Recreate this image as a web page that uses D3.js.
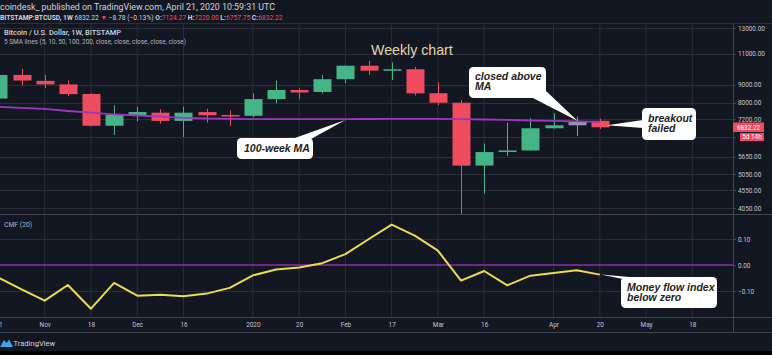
<!DOCTYPE html>
<html><head><meta charset="utf-8">
<script src="https://cdn.jsdelivr.net/npm/d3@7"></script>
<style>
html,body{margin:0;padding:0;background:#131722;}
svg{display:block;}
</style></head><body>
<svg id="c" width="772" height="355"></svg>
<script>
// ---------- data ----------
const weeks = ["2019-10-21","2019-10-28","2019-11-04","2019-11-11","2019-11-18","2019-11-25","2019-12-02","2019-12-09","2019-12-16","2019-12-23","2019-12-30","2020-01-06","2020-01-13","2020-01-20","2020-01-27","2020-02-03","2020-02-10","2020-02-17","2020-02-24","2020-03-02","2020-03-09","2020-03-16","2020-03-23","2020-03-30","2020-04-06","2020-04-13","2020-04-20"];
const opens  = [8230,9590,9230,9020,8480,6900,7400,7510,7120,7540,7400,7360,8200,8700,8590,9330,10180,9860,9950,8520,8010,5330,5820,5880,6790,6920,7124.27];
const highs  = [10350,9970,9590,9250,8520,7890,7800,7680,7800,7700,7620,8510,9240,8795,9590,10200,10500,10400,10100,9130,8150,6150,7030,7240,7480,7320,7220.00];
const lows   = [7300,8970,8810,8360,6880,6500,7100,7000,6420,7050,6900,7300,7980,8200,8510,9100,9590,9280,8390,7880,3893,4450,5670,5860,6770,6460,6757.75];
const closes = [9590,9250,9020,8470,6900,7400,7545,7120,7510,7385,7360,8200,8700,8560,9330,10180,9860,9950,8510,8010,5330,5820,5880,6790,6920,7120,6832.22];
const ma100  = [7800,7745,7693,7593,7510,7430,7375,7318,7266,7233,7212,7205,7205,7205,7205,7208,7210,7212,7214,7212,7200,7185,7165,7140,7118,7095,7073];
const cmf    = [-0.048,-0.094,-0.137,-0.077,-0.168,-0.069,-0.118,-0.114,-0.120,-0.110,-0.088,-0.040,-0.017,-0.010,0.007,0.042,0.099,0.155,0.113,0.055,-0.060,-0.023,-0.078,-0.041,-0.031,-0.020,-0.037];
const priceTicks = [13000,11000,9000,8000,7200,6400,5650,5050,4550,4050];
const priceTickLabels = ["13000.00","11000.00","9000.00","8000.00","7200.00","","5650.00","5050.00","4550.00","4050.00"]; // 6400 label hidden behind the countdown tag
const cmfTicks = [0.10,0.00,-0.10];
const xTickDates = ["2019-10-21","2019-11-04","2019-11-18","2019-12-02","2019-12-16","2020-01-06","2020-01-20","2020-02-03","2020-02-17","2020-03-02","2020-03-16","2020-04-06","2020-04-20","2020-05-04","2020-05-18"];
const xTickLabels = ["21","Nov","18","Dec","16","2020","20","Feb","17","Mar","16","Apr","20","May","18"];
const lastPrice = 6832.22;

// ---------- setup ----------
const parse = d3.utcParse("%Y-%m-%d");
const svg = d3.select("#c");
const W = 772, axisX = 733;
const priceTop = 24, priceBot = 214.5, cmfBot = 317, xAxisBot = 332;
const BG = "#131722", GRID = "#2a2e39", BORDER = "#434651", TXT = "#b2b5be";
const UP = "#45b486", DOWN = "#ef4d5f";
const FONT = "Roboto, 'Liberation Sans', sans-serif";

svg.append("rect").attr("width",W).attr("height",355).attr("fill",BG);
svg.append("rect").attr("y",351).attr("width",W).attr("height",4).attr("fill","#000");

const x = d3.scaleUtc()
  .domain([parse("2019-11-04"), parse("2020-05-18")])
  .range([44.7, 44.7 + 28*23.13]);
const y = d3.scaleLog().domain([4050,13000]).range([208,28]);
const yc = d3.scaleLinear().domain([-0.10,0.10]).range([291,239]);

const data = weeks.map((w,i)=>({d:parse(w),o:opens[i],h:highs[i],l:lows[i],c:closes[i],ma:ma100[i],cmf:cmf[i]}));

// clip paths
const defs = svg.append("defs");
defs.append("clipPath").attr("id","cp").append("rect").attr("x",0).attr("y",priceTop).attr("width",axisX).attr("height",priceBot-priceTop);
defs.append("clipPath").attr("id","cc").append("rect").attr("x",0).attr("y",priceBot).attr("width",axisX).attr("height",cmfBot-priceBot);

// gridlines
const grid = svg.append("g");
grid.selectAll(".vg").data(xTickDates).join("line")
  .attr("x1",d=>x(parse(d))).attr("x2",d=>x(parse(d)))
  .attr("y1",priceTop).attr("y2",cmfBot).attr("stroke",GRID).attr("stroke-width",1);
grid.selectAll(".hg").data(priceTicks).join("line")
  .attr("x1",0).attr("x2",axisX).attr("y1",d=>Math.round(y(d))+0.5).attr("y2",d=>Math.round(y(d))+0.5)
  .attr("stroke",GRID);
grid.selectAll(".hc").data(cmfTicks.filter(d=>d!==0)).join("line")
  .attr("x1",0).attr("x2",axisX).attr("y1",d=>Math.round(yc(d))+0.5).attr("y2",d=>Math.round(yc(d))+0.5)
  .attr("stroke",GRID);

// borders
const bd = svg.append("g").attr("stroke",BORDER).attr("stroke-width",1);
bd.append("line").attr("x1",0).attr("x2",W).attr("y1",priceTop-0.5).attr("y2",priceTop-0.5).attr("stroke","#2a2e39");
bd.append("line").attr("x1",0).attr("x2",W).attr("y1",priceBot).attr("y2",priceBot);
bd.append("line").attr("x1",0).attr("x2",W).attr("y1",cmfBot+0.5).attr("y2",cmfBot+0.5);
bd.append("line").attr("x1",0).attr("x2",W).attr("y1",xAxisBot+0.5).attr("y2",xAxisBot+0.5);
bd.append("line").attr("x1",axisX+0.5).attr("x2",axisX+0.5).attr("y1",priceTop).attr("y2",xAxisBot);

// ---------- price panel ----------
const pg = svg.append("g").attr("clip-path","url(#cp)");
const cw = 18;
const cg = pg.selectAll(".candle").data(data).join("g");
cg.append("line")
  .attr("x1",d=>Math.round(x(d.d))+0.5).attr("x2",d=>Math.round(x(d.d))+0.5)
  .attr("y1",d=>y(d.h)).attr("y2",d=>y(d.l))
  .attr("stroke",(d,i)=> i===25 ? "#8a9cb0" : (d.c>=d.o?UP:DOWN)).attr("stroke-width",1);
cg.append("rect")
  .attr("x",d=>Math.round(x(d.d)-cw/2)+0.5).attr("width",cw)
  .attr("y",d=>y(Math.max(d.o,d.c))).attr("height",d=>Math.max(1.5,y(Math.min(d.o,d.c))-y(Math.max(d.o,d.c))))
  .attr("fill",(d,i)=> i===25 ? "#8a9cb0" : (d.c>=d.o?UP:DOWN));

pg.append("path").datum(data)
  .attr("d",d3.line().x(d=>x(d.d)).y(d=>y(d.ma)))
  .attr("fill","none").attr("stroke","#a034c4").attr("stroke-width",1.8);

// ---------- cmf panel ----------
const cgp = svg.append("g").attr("clip-path","url(#cc)");
cgp.append("line").attr("x1",0).attr("x2",axisX).attr("y1",yc(0)).attr("y2",yc(0))
  .attr("stroke","#8e2fa8").attr("stroke-width",1.3);
cgp.append("path").datum(data)
  .attr("d",d3.line().x(d=>x(d.d)).y(d=>yc(d.cmf)))
  .attr("fill","none").attr("stroke","#eadc52").attr("stroke-width",2).attr("stroke-linejoin","round");

// ---------- axes ----------
const ya = svg.append("g").attr("transform",`translate(${axisX},0)`)
  .call(d3.axisRight(y).tickValues(priceTicks).tickFormat((d,i)=>priceTickLabels[i]).tickSize(3).tickPadding(2));
const yca = svg.append("g").attr("transform",`translate(${axisX},0)`)
  .call(d3.axisRight(yc).tickValues(cmfTicks).tickFormat(d3.format(".2f")).tickSize(3).tickPadding(2));
const xa = svg.append("g").attr("transform",`translate(0,${cmfBot})`)
  .call(d3.axisBottom(x).tickValues(xTickDates.map(parse)).tickFormat((d,i)=>xTickLabels[i]).tickSize(0).tickPadding(5));
[ya,yca,xa].forEach(a=>{
  a.select(".domain").remove();
  a.selectAll(".tick line").attr("stroke",BORDER);
  a.selectAll("text").attr("fill","#c3c6ce").attr("font-family",FONT).attr("font-size",6.4);
});

// last price tags
const tagY = y(lastPrice);
svg.append("rect").attr("x",axisX).attr("y",tagY-4.8).attr("width",31).attr("height",9.6).attr("fill",DOWN);
svg.append("text").attr("x",axisX+15.5).attr("y",tagY+2.3).attr("text-anchor","middle")
  .attr("fill","#fff").attr("font-family",FONT).attr("font-size",6.4).text(d3.format(".2f")(lastPrice));
svg.append("rect").attr("x",740).attr("y",tagY+5.8).attr("width",24).attr("height",8).attr("fill",DOWN);
svg.append("text").attr("x",752).attr("y",tagY+12).attr("text-anchor","middle")
  .attr("fill","#fff").attr("font-family",FONT).attr("font-size",6.4).text("5d 14h");

// ---------- header texts ----------
svg.append("text").attr("x",0).attr("y",9.5).attr("font-family",FONT).attr("font-size",8.4).attr("fill","#d1d4dc")
  .attr("textLength",275).attr("lengthAdjust","spacingAndGlyphs")
  .text("coindesk_ published on TradingView.com, April 21, 2020 10:59:31 UTC");
const h2 = svg.append("text").attr("x",0).attr("y",19.5).attr("font-family",FONT).attr("font-size",6.7).attr("fill","#d1d4dc");
h2.append("tspan").attr("font-weight","bold").text("BITSTAMP:BTCUSD, 1W ");
h2.append("tspan").text(" 6832.22 ");
h2.append("tspan").attr("fill",DOWN).text("▼");
h2.append("tspan").text(" −8.78 (−0.13%) ");
[["O:","7124.27"],["H:","7220.00"],["L:","6757.75"],["C:","6832.22"]].forEach(([k,v],i)=>{
  h2.append("tspan").attr("font-weight","bold").text((i?" ":"")+k);
  h2.append("tspan").attr("fill",DOWN).text(v);
});
svg.append("text").attr("x",4).attr("y",34.5).attr("font-family",FONT).attr("font-size",7.3).attr("font-weight",500).attr("fill","#d1d4dc")
  .attr("textLength",117).attr("lengthAdjust","spacingAndGlyphs")
  .text("Bitcoin / U.S. Dollar, 1W, BITSTAMP");
svg.append("text").attr("x",4).attr("y",44.3).attr("font-family",FONT).attr("font-size",6.8).attr("fill",TXT)
  .attr("textLength",182).attr("lengthAdjust","spacingAndGlyphs")
  .text("5 SMA lines (5, 10, 50, 100, 200, close, close, close, close, close)");
svg.append("text").attr("x",4).attr("y",226.5).attr("font-family",FONT).attr("font-size",6.8).attr("fill",TXT)
  .text("CMF (20)");

// weekly chart title
svg.append("text").attr("x",371).attr("y",54.5).attr("font-family","'Liberation Sans', Arial, sans-serif")
  .attr("font-size",14.2).attr("fill","#e3d3ae").text("Weekly chart");

// ---------- callouts ----------
const AF = "'Liberation Sans', Arial, sans-serif";
function callout(box, lines, tip, base, tx, ty){
  const g = svg.append("g");
  g.append("polygon").attr("points",[tip, base[0], base[1]].map(p=>p.join(",")).join(" ")).attr("fill","#fff");
  g.append("rect").attr("x",box[0]).attr("y",box[1]).attr("width",box[2]).attr("height",box[3]).attr("rx",4.5).attr("fill","#fff");
  lines.forEach((t,i)=>{
    g.append("text").attr("x",tx).attr("y",ty+i*10.6).attr("font-family",AF).attr("font-size",10.5)
      .attr("font-weight","bold").attr("font-style","italic").attr("fill","#222").text(t);
  });
}
const iFeb3 = weeks.indexOf("2020-02-03"), iApr13 = weeks.indexOf("2020-04-13"), iApr20 = weeks.indexOf("2020-04-20");
callout([237,138,76,21],["100-week MA"],[x(data[iFeb3].d), y(data[iFeb3].ma)+1],[[292,139],[311,139]],244,152);
callout([469,67,77,31],["closed above","MA"],[x(data[iApr13].d)+1, y(data[iApr13].c)],[[531,97],[546,91]],475,79.5);
callout([642,108,54,32],["breakout","failed"],[x(data[iApr20].d)+7, y(lastPrice)-2],[[643,120],[643,128]],648,121.5);
callout([621,277,96,31],["Money flow index","below zero"],[x(data[iApr20].d)+1, yc(data[iApr20].cmf)],[[623,279],[641,278]],627,290.5);

// ---------- footer logo ----------
const lg = svg.append("g");
lg.append("path").attr("d","M0,347 L4,340 L6.5,343 L9,339.5 L13,347 Z").attr("fill","#3fa3f0");
lg.append("text").attr("x",13.5).attr("y",345.5).attr("font-family",FONT).attr("font-size",7.6).attr("fill","#d1d4dc").text("TradingView");
</script>
</body></html>
